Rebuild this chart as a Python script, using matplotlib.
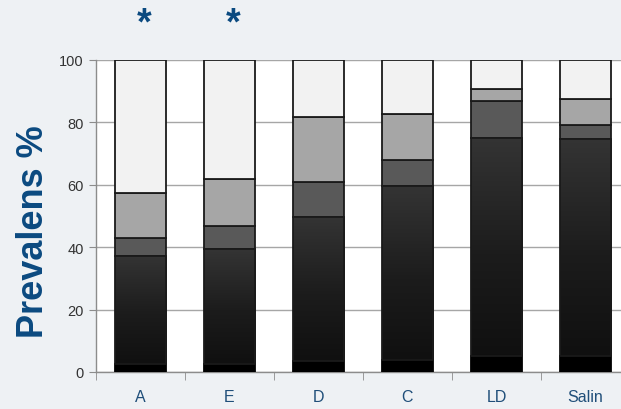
import matplotlib
matplotlib.use('Agg')
import matplotlib.pyplot as plt
import numpy as np
from matplotlib.colors import LinearSegmentedColormap

categories = ['A', 'E', 'D', 'C', 'LD', 'Salin']
black_base = [2.5, 2.5, 3.5, 4.0, 5.0, 5.0]
dark_top = [37.2, 39.3, 49.7, 59.7, 75.0, 74.7]
darkgrey_top = [42.8, 46.8, 60.8, 67.9, 87.0, 79.2]
grey_top = [57.3, 61.9, 81.8, 82.7, 90.7, 87.5]
total = [100, 100, 100, 100, 100, 100]
stars = ['*', '*', '', '', '', '']
yticks = [0, 20, 40, 60, 80, 100]

plt.rcParams['font.family'] = ['Liberation Sans', 'DejaVu Sans']

fig = plt.figure(figsize=(6.21, 4.10), dpi=100)
fig.patch.set_facecolor('#eef1f4')
ax = fig.add_axes([96 / 621, 1 - 373 / 410, 534 / 621, 312 / 410])
ax.set_facecolor('white')

x = np.arange(len(categories))
w = 0.58
edge = '#1a1a1a'
lw = 1.3

base = np.array(black_base)
dt = np.array(dark_top)
dgt = np.array(darkgrey_top)
gt = np.array(grey_top)
tot = np.array(total)

ax.bar(x, base, w, color='black', edgecolor='black', linewidth=lw, zorder=3)

cmap = LinearSegmentedColormap.from_list('dk', ['#0e0e0e', '#1c1c1c', '#343434'])
grad = np.linspace(0, 1, 256).reshape(-1, 1)
dark_bars = ax.bar(x, dt - base, w, bottom=base, facecolor='none',
                   edgecolor=edge, linewidth=lw, zorder=4)
for b in dark_bars:
    x0, y0 = b.get_x(), b.get_y()
    im = ax.imshow(grad, cmap=cmap, aspect='auto', origin='lower',
                   extent=(x0, x0 + b.get_width(), 0, y0 + b.get_height()),
                   zorder=3.5)
    im.set_clip_path(b)

ax.bar(x, dgt - dt, w, bottom=dt, color='#595959', edgecolor=edge, linewidth=lw, zorder=3)
ax.bar(x, gt - dgt, w, bottom=dgt, color='#a6a6a6', edgecolor=edge, linewidth=lw, zorder=3)
ax.bar(x, tot - gt, w, bottom=gt, color='#f2f2f2', edgecolor=edge, linewidth=lw, zorder=3)

ax.set_xlim(-0.5, len(categories) - 0.5)
ax.set_ylim(0, 100)
ax.set_yticks(yticks)
ax.yaxis.grid(True, color='#a6a6a6', linewidth=1.0, zorder=0)
ax.set_axisbelow(True)

for s in ['top', 'right']:
    ax.spines[s].set_visible(False)
for s in ['left', 'bottom']:
    ax.spines[s].set_color('#8c8c8c')
    ax.spines[s].set_linewidth(1.0)

ax.tick_params(axis='y', length=5, color='#8c8c8c', labelsize=10.5,
               labelcolor='#333333', pad=4)
ax.set_xticks(x)
ax.set_xticklabels(categories)
ax.set_xticks(np.arange(-0.5, len(categories)), minor=True)
ax.tick_params(axis='x', which='major', length=0, labelsize=11.5,
               labelcolor='#1f4e79', pad=12.5)
ax.tick_params(axis='x', which='minor', length=6, color='#8c8c8c')

for xi, s in zip(x, stars):
    if s:
        ax.text(xi + 0.04, 111.8, s, ha='center', va='center', fontsize=27,
                fontweight='bold', color='#0b4a80', clip_on=False)

fig.text(34 / 621, 1 - 232 / 410, 'Prevalens %', rotation=90, ha='center',
         va='center', fontsize=26, fontweight='bold', color='#0b4a80')

fig.savefig('out.png', dpi=100, facecolor=fig.get_facecolor())
